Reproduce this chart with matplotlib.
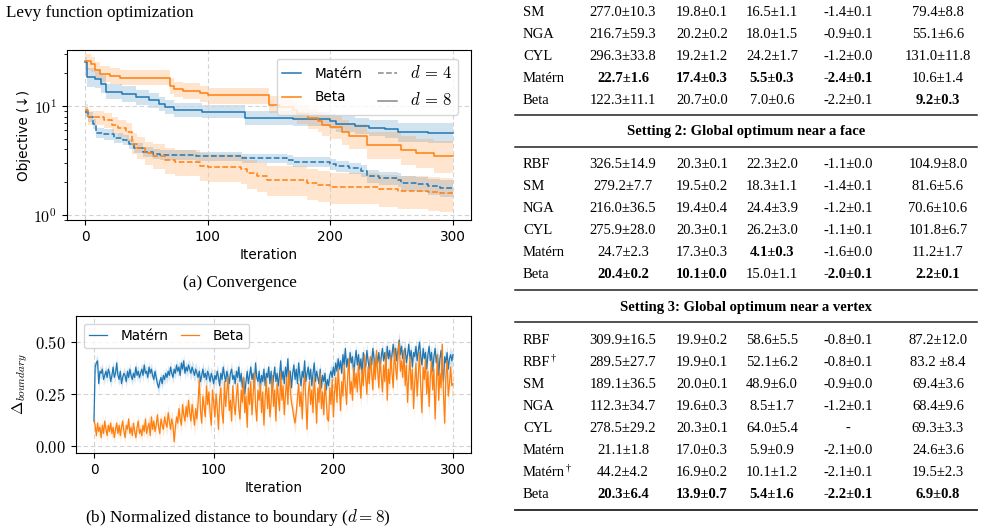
import numpy as np
import matplotlib
matplotlib.use("Agg")
import matplotlib.pyplot as plt
from matplotlib.lines import Line2D
from matplotlib.ticker import FuncFormatter, NullFormatter, FixedLocator

plt.rcParams['font.family'] = ['DejaVu Sans']
plt.rcParams['mathtext.fontset'] = 'cm'

BLUE = '#1f77b4'
ORANGE = '#ff7f0e'
SERIF = 'Liberation Serif'

# ---------------- data: (a) convergence (step change points) ----------------
m8_it = [0, 1, 8, 13, 17, 30, 41, 52, 60, 65, 72, 95, 130, 170, 200, 205, 220, 232, 245, 255, 280, 300]
m8_mean = [25.5, 18.6, 17.8, 16.0, 13.6, 13.0, 12.0, 11.3, 10.5, 9.85, 9.2, 8.85, 7.75, 7.6, 7.3, 6.9, 6.55, 6.35, 6.2, 5.75, 5.65, 5.65]
m8_lo = [21.0, 15.0, 14.6, 13.3, 11.5, 11.0, 10.2, 9.7, 9.0, 8.5, 7.9, 7.7, 6.7, 6.5, 6.2, 5.8, 5.5, 5.3, 5.1, 4.7, 4.6, 4.6]
m8_hi = [28.0, 22.5, 21.5, 19.2, 16.0, 15.3, 14.0, 13.1, 12.2, 11.4, 10.7, 10.2, 9.0, 8.8, 8.5, 8.1, 7.7, 7.5, 7.4, 7.0, 6.95, 6.95]

b8_it = [0, 5, 8, 12, 20, 28, 69, 72, 80, 94, 100, 150, 158, 170, 173, 182, 190, 193, 200, 210, 215, 230, 258, 270, 285, 300]
b8_mean = [25.9, 24.5, 21.5, 19.8, 19.0, 18.2, 15.3, 14.3, 13.8, 13.1, 12.6, 10.3, 9.9, 9.2, 8.4, 7.7, 7.3, 6.7, 6.45, 5.8, 5.3, 4.4, 3.95, 3.7, 3.47, 3.47]
b8_lo = [21.5, 20.5, 18.0, 16.5, 16.0, 15.5, 13.0, 12.2, 11.7, 11.0, 10.5, 8.6, 8.2, 7.5, 6.8, 6.2, 5.8, 5.3, 5.0, 4.4, 4.0, 3.3, 2.9, 2.7, 2.45, 2.4]
b8_hi = [30.0, 28.5, 25.5, 23.5, 22.5, 21.3, 18.0, 16.8, 16.2, 15.4, 14.8, 12.3, 11.9, 11.1, 10.2, 9.4, 8.9, 8.3, 8.1, 7.4, 6.9, 5.8, 5.3, 5.0, 4.75, 4.7]

m4_it = [0, 2, 6, 9, 15, 23, 31, 36, 40, 47, 55, 61, 90, 128, 165, 170, 200, 205, 215, 225, 230, 240, 255, 258, 270, 280, 290, 300]
m4_mean = [8.9, 8.0, 6.9, 5.7, 5.5, 5.1, 4.9, 4.5, 4.1, 3.78, 3.62, 3.55, 3.45, 3.32, 3.2, 3.07, 2.92, 2.8, 2.68, 2.55, 2.27, 2.2, 2.1, 1.96, 1.92, 1.83, 1.77, 1.77]
m4_lo = [8.0, 7.2, 6.2, 5.1, 4.9, 4.6, 4.4, 4.05, 3.7, 3.4, 3.27, 3.2, 3.1, 3.0, 2.88, 2.76, 2.6, 2.5, 2.38, 2.25, 1.98, 1.9, 1.8, 1.66, 1.62, 1.53, 1.47, 1.47]
m4_hi = [9.8, 8.9, 7.6, 6.3, 6.1, 5.6, 5.4, 5.0, 4.55, 4.2, 4.0, 3.92, 3.8, 3.66, 3.53, 3.4, 3.25, 3.12, 3.0, 2.87, 2.58, 2.5, 2.42, 2.28, 2.24, 2.15, 2.1, 2.1]

b4_it = [0, 2, 15, 22, 27, 33, 38, 42, 49, 55, 65, 73, 94, 100, 127, 132, 140, 148, 181, 190, 200, 240, 255, 280, 290, 300]
b4_mean = [9.2, 7.86, 7.45, 6.7, 6.3, 5.8, 4.5, 4.15, 3.7, 3.5, 3.2, 3.05, 2.82, 2.75, 2.65, 2.42, 2.26, 2.09, 1.96, 1.88, 1.79, 1.72, 1.67, 1.63, 1.58, 1.58]
b4_lo = [7.9, 6.7, 6.3, 5.6, 5.2, 4.7, 3.6, 3.25, 2.85, 2.65, 2.4, 2.27, 2.07, 2.0, 1.92, 1.74, 1.62, 1.5, 1.38, 1.32, 1.25, 1.18, 1.14, 1.1, 1.07, 1.07]
b4_hi = [10.5, 9.1, 8.7, 7.9, 7.5, 7.0, 5.6, 5.2, 4.7, 4.5, 4.15, 3.95, 3.7, 3.6, 3.5, 3.2, 3.0, 2.8, 2.65, 2.55, 2.45, 2.35, 2.28, 2.22, 2.17, 2.17]

# ---------------- data: (b) distance to boundary, iterations 0..300 ----------------
dist_matern = [
    0.12, 0.38, 0.40, 0.41, 0.30, 0.36, 0.35, 0.37, 0.32, 0.34, 0.36, 0.33, 0.37, 0.35, 0.31, 0.34, 0.38, 0.33, 0.35, 0.40,
    0.34, 0.32, 0.36, 0.30, 0.33, 0.35, 0.34, 0.31, 0.36, 0.33, 0.37, 0.34, 0.32, 0.35, 0.33, 0.38, 0.34, 0.36, 0.33, 0.35,
    0.37, 0.34, 0.39, 0.35, 0.36, 0.33, 0.38, 0.35, 0.37, 0.34, 0.32, 0.36, 0.33, 0.30, 0.28, 0.31, 0.33, 0.30, 0.34, 0.32,
    0.35, 0.33, 0.36, 0.34, 0.38, 0.35, 0.33, 0.37, 0.35, 0.39, 0.36, 0.38, 0.34, 0.40, 0.37, 0.41, 0.35, 0.38, 0.36, 0.39,
    0.37, 0.35, 0.38, 0.36, 0.34, 0.37, 0.35, 0.33, 0.36, 0.31, 0.34, 0.37, 0.33, 0.35, 0.32, 0.36, 0.34, 0.31, 0.35, 0.33,
    0.30, 0.34, 0.32, 0.36, 0.33, 0.29, 0.35, 0.32, 0.38, 0.34, 0.31, 0.36, 0.33, 0.30, 0.35, 0.37, 0.32, 0.34, 0.30, 0.36,
    0.33, 0.38, 0.31, 0.35, 0.28, 0.33, 0.25, 0.31, 0.36, 0.30, 0.34, 0.38, 0.32, 0.35, 0.29, 0.40, 0.33, 0.31, 0.36, 0.28,
    0.34, 0.31, 0.37, 0.29, 0.35, 0.33, 0.38, 0.30, 0.36, 0.27, 0.33, 0.38, 0.31, 0.35, 0.29, 0.34, 0.41, 0.32, 0.36, 0.30,
    0.38, 0.33, 0.42, 0.31, 0.36, 0.28, 0.35, 0.39, 0.32, 0.37, 0.30, 0.40, 0.34, 0.29, 0.36, 0.33, 0.41, 0.31, 0.35, 0.38,
    0.32, 0.37, 0.29, 0.35, 0.40, 0.31, 0.36, 0.33, 0.30, 0.37, 0.28, 0.34, 0.31, 0.35, 0.27, 0.32, 0.29, 0.34, 0.36, 0.33,
    0.38, 0.34, 0.40, 0.36, 0.42, 0.37, 0.41, 0.35, 0.44, 0.39, 0.47, 0.38, 0.42, 0.36, 0.45, 0.40, 0.43, 0.34, 0.41, 0.46,
    0.39, 0.44, 0.37, 0.42, 0.35, 0.45, 0.40, 0.38, 0.46, 0.41, 0.37, 0.43, 0.39, 0.47, 0.42, 0.36, 0.44, 0.40, 0.45, 0.38,
    0.43, 0.47, 0.41, 0.45, 0.39, 0.48, 0.42, 0.46, 0.40, 0.44, 0.49, 0.43, 0.47, 0.41, 0.46, 0.51, 0.44, 0.48, 0.42, 0.45,
    0.47, 0.40, 0.44, 0.49, 0.42, 0.46, 0.38, 0.45, 0.43, 0.48, 0.41, 0.46, 0.50, 0.43, 0.39, 0.47, 0.42, 0.45, 0.37, 0.44,
    0.48, 0.41, 0.45, 0.36, 0.43, 0.47, 0.40, 0.44, 0.34, 0.42, 0.46, 0.38, 0.31, 0.43, 0.40, 0.45, 0.37, 0.42, 0.44, 0.41,
    0.44]
dist_beta = [
    0.12, 0.10, 0.05, 0.11, 0.07, 0.09, 0.04, 0.10, 0.06, 0.12, 0.08, 0.05, 0.10, 0.07, 0.11, 0.06, 0.09, 0.04, 0.08, 0.11,
    0.06, 0.10, 0.05, 0.09, 0.12, 0.07, 0.04, 0.10, 0.08, 0.13, 0.06, 0.09, 0.05, 0.11, 0.07, 0.04, 0.09, 0.12, 0.06, 0.08,
    0.05, 0.10, 0.07, 0.13, 0.06, 0.09, 0.11, 0.05, 0.14, 0.08, 0.12, 0.07, 0.10, 0.15, 0.09, 0.06, 0.13, 0.10, 0.08, 0.14,
    0.11, 0.09, 0.16, 0.12, 0.08, 0.13, 0.10, 0.02, 0.09, 0.14, 0.11, 0.18, 0.13, 0.10, 0.20, 0.15, 0.12, 0.19, 0.14, 0.22,
    0.16, 0.12, 0.20, 0.15, 0.10, 0.18, 0.13, 0.21, 0.32, 0.17, 0.11, 0.24, 0.19, 0.14, 0.29, 0.20, 0.26, 0.16, 0.10, 0.27,
    0.21, 0.14, 0.25, 0.18, 0.08, 0.23, 0.28, 0.16, 0.11, 0.31, 0.19, 0.26, 0.33, 0.17, 0.22, 0.12, 0.29, 0.20, 0.15, 0.24,
    0.30, 0.18, 0.13, 0.27, 0.21, 0.33, 0.16, 0.24, 0.09, 0.28, 0.20, 0.31, 0.15, 0.25, 0.35, 0.19, 0.12, 0.27, 0.22, 0.30,
    0.16, 0.26, 0.10, 0.23, 0.32, 0.18, 0.28, 0.14, 0.21, 0.34, 0.19, 0.27, 0.12, 0.30, 0.24, 0.17, 0.35, 0.22, 0.29, 0.15,
    0.25, 0.33, 0.20, 0.36, 0.27, 0.21, 0.18, 0.14, 0.11, 0.16, 0.23, 0.30, 0.19, 0.26, 0.13, 0.29, 0.34, 0.22, 0.08, 0.25,
    0.31, 0.20, 0.27, 0.16, 0.33, 0.24, 0.11, 0.28, 0.21, 0.35, 0.18, 0.26, 0.15, 0.30, 0.23, 0.13, 0.12, 0.28, 0.20, 0.32,
    0.14, 0.26, 0.33, 0.21, 0.37, 0.28, 0.17, 0.31, 0.24, 0.39, 0.29, 0.20, 0.34, 0.42, 0.25, 0.31, 0.22, 0.38, 0.28, 0.35,
    0.26, 0.40, 0.31, 0.23, 0.37, 0.29, 0.44, 0.33, 0.25, 0.38, 0.30, 0.43, 0.35, 0.27, 0.41, 0.32, 0.46, 0.36, 0.28, 0.42,
    0.34, 0.26, 0.39, 0.31, 0.45, 0.22, 0.37, 0.30, 0.43, 0.35, 0.28, 0.47, 0.38, 0.32, 0.44, 0.50, 0.36, 0.41, 0.33, 0.46,
    0.29, 0.39, 0.21, 0.34, 0.43, 0.27, 0.37, 0.18, 0.31, 0.40, 0.24, 0.35, 0.45, 0.28, 0.16, 0.38, 0.32, 0.42, 0.25, 0.36,
    0.19, 0.33, 0.41, 0.27, 0.37, 0.13, 0.30, 0.44, 0.22, 0.35, 0.28, 0.49, 0.25, 0.11, 0.34, 0.41, 0.24, 0.30, 0.38, 0.29,
    0.30]
# standard error per block of 20 iterations (last block: iteration 300)
sd_matern_blocks = [0.03, 0.03, 0.03, 0.03, 0.035, 0.035, 0.035, 0.035, 0.035, 0.035, 0.035, 0.035, 0.035, 0.035, 0.04, 0.04]
sd_beta_blocks = [0.03, 0.03, 0.035, 0.04, 0.05, 0.05, 0.05, 0.05, 0.05, 0.05, 0.05, 0.055, 0.055, 0.055, 0.06, 0.06]

# ---------------- data: table ----------------
col_methods_1 = ["SM", "NGA", "CYL", "Matérn", "Beta"]
cells_1 = [
    ["277.0±10.3", "19.8±0.1", "16.5±1.1", "-1.4±0.1", "79.4±8.8"],
    ["216.7±59.3", "20.2±0.2", "18.0±1.5", "-0.9±0.1", "55.1±6.6"],
    ["296.3±33.8", "19.2±1.2", "24.2±1.7", "-1.2±0.0", "131.0±11.8"],
    ["22.7±1.6", "17.4±0.3", "5.5±0.3", "-2.4±0.1", "10.6±1.4"],
    ["122.3±11.1", "20.7±0.0", "7.0±0.6", "-2.2±0.1", "9.2±0.3"],
]
bold_1 = [[0, 0, 0, 0, 0], [0, 0, 0, 0, 0], [0, 0, 0, 0, 0], [1, 1, 1, 1, 0], [0, 0, 0, 0, 1]]

header_2 = "Setting 2: Global optimum near a face"
col_methods_2 = ["RBF", "SM", "NGA", "CYL", "Matérn", "Beta"]
cells_2 = [
    ["326.5±14.9", "20.3±0.1", "22.3±2.0", "-1.1±0.0", "104.9±8.0"],
    ["279.2±7.7", "19.5±0.2", "18.3±1.1", "-1.4±0.1", "81.6±5.6"],
    ["216.0±36.5", "19.4±0.4", "24.4±3.9", "-1.2±0.1", "70.6±10.6"],
    ["275.9±28.0", "20.3±0.1", "26.2±3.0", "-1.1±0.1", "101.8±6.7"],
    ["24.7±2.3", "17.3±0.3", "4.1±0.3", "-1.6±0.0", "11.2±1.7"],
    ["20.4±0.2", "10.1±0.0", "15.0±1.1", "-2.0±0.1", "2.2±0.1"],
]
bold_2 = [[0, 0, 0, 0, 0], [0, 0, 0, 0, 0], [0, 0, 0, 0, 0], [0, 0, 0, 0, 0], [0, 0, 1, 0, 0], [1, 1, 0, 1, 1]]

header_3 = "Setting 3: Global optimum near a vertex"
col_methods_3 = ["RBF", "RBF†", "SM", "NGA", "CYL", "Matérn", "Matérn†", "Beta"]
cells_3 = [
    ["309.9±16.5", "19.9±0.2", "58.6±5.5", "-0.8±0.1", "87.2±12.0"],
    ["289.5±27.7", "19.9±0.1", "52.1±6.2", "-0.8±0.1", "83.2 ±8.4"],
    ["189.1±36.5", "20.0±0.1", "48.9±6.0", "-0.9±0.0", "69.4±3.6"],
    ["112.3±34.7", "19.6±0.3", "8.5±1.7", "-1.2±0.1", "68.4±9.6"],
    ["278.5±29.2", "20.3±0.1", "64.0±5.4", "-", "69.3±3.3"],
    ["21.1±1.8", "17.0±0.3", "5.9±0.9", "-2.1±0.0", "24.6±3.6"],
    ["44.2±4.2", "16.9±0.2", "10.1±1.2", "-2.1±0.1", "19.5±2.3"],
    ["20.3±6.4", "13.9±0.7", "5.4±1.6", "-2.2±0.1", "6.9±0.8"],
]
bold_3 = [[0] * 5] * 7 + [[1, 1, 1, 1, 1]]

# ---------------- figure ----------------
W, H = 984, 532
fig = plt.figure(figsize=(W / 100, H / 100), dpi=100)
renderer = fig.canvas.get_renderer()


def fx(x):
    return x / W


def fy(y):
    return 1 - y / H


def axes_px(l, t, r, b):
    return fig.add_axes([fx(l), fy(b), (r - l) / W, (b - t) / H])


GRID = dict(ls=(0, (4, 2.5)), color='#d3d3d3', lw=0.8)
TICKFS = 9.8
LEGFS = 9.8

# ----- (a) -----
ax1 = axes_px(67, 50, 471, 220)
for it, mean, lo, hi, col, ls in [
    (m8_it, m8_mean, m8_lo, m8_hi, BLUE, '-'),
    (b8_it, b8_mean, b8_lo, b8_hi, ORANGE, '-'),
    (m4_it, m4_mean, m4_lo, m4_hi, BLUE, '--'),
    (b4_it, b4_mean, b4_lo, b4_hi, ORANGE, '--'),
]:
    ax1.fill_between(it, lo, hi, step='post', color=col, alpha=0.2, lw=0)
    ax1.step(it, mean, where='post', color=col, ls=ls, lw=1.1)
ax1.set_yscale('log')
ax1.set_ylim(0.9, 32.7)
ax1.set_xlim(-15, 315)
ax1.set_xticks([0, 100, 200, 300])
ax1.yaxis.set_major_locator(FixedLocator([1, 10]))
ax1.yaxis.set_major_formatter(FuncFormatter(lambda v, p: r'$10^{%d}$' % round(np.log10(v))))
ax1.yaxis.set_minor_formatter(NullFormatter())
ax1.tick_params(axis='x', labelsize=TICKFS)
ax1.tick_params(axis='y', labelsize=11.5)
ax1.grid(True, which='major', **GRID)
ax1.set_xlabel('Iteration', fontsize=TICKFS, labelpad=3)
ax1.set_ylabel('Objective (↓)', fontsize=TICKFS, labelpad=2)
handles = [Line2D([], [], color=BLUE, lw=1.1), Line2D([], [], color=ORANGE, lw=1.1),
           Line2D([], [], color='#888888', ls='--', lw=1.1), Line2D([], [], color='#888888', lw=1.1)]
leg1 = ax1.legend(handles, ['Matérn', 'Beta', r'$d\,=\,4$', r'$d\,=\,8$'], ncol=2, loc='upper right',
                  fontsize=LEGFS, handlelength=1.4, columnspacing=1.1, labelspacing=0.7,
                  handletextpad=1.0, borderaxespad=0.5, bbox_to_anchor=(0.985, 0.99))
for t in leg1.get_texts()[2:]:
    t.set_fontsize(12)

# ----- (b) -----
ax2 = axes_px(76, 316, 471, 453)
iters = np.arange(len(dist_matern))
reps = [20] * 15 + [1]
for vals, sdb, col in [(dist_matern, sd_matern_blocks, BLUE), (dist_beta, sd_beta_blocks, ORANGE)]:
    v = np.array(vals)
    sd = np.repeat(sdb, reps)
    ax2.fill_between(iters, v - sd, v + sd, color=col, alpha=0.18, lw=0)
for vals, col, lab in [(dist_matern, BLUE, 'Matérn'), (dist_beta, ORANGE, 'Beta')]:
    ax2.plot(iters, vals, color=col, lw=0.9, label=lab)
ax2.set_xlim(-15, 315)
ax2.set_ylim(-0.034, 0.626)
ax2.set_xticks([0, 100, 200, 300])
ax2.set_yticks([0.0, 0.25, 0.5])
ax2.yaxis.set_major_formatter(FuncFormatter(lambda v, p: r'$%.2f$' % v))
ax2.tick_params(axis='x', labelsize=TICKFS)
ax2.tick_params(axis='y', labelsize=12)
ax2.grid(True, **GRID)
ax2.set_xlabel('Iteration', fontsize=TICKFS, labelpad=3)
ax2.set_ylabel(r'$\Delta_{boundary}$', fontsize=11.5, labelpad=4)
ax2.legend(ncol=2, loc='upper left', fontsize=LEGFS, handlelength=1.3, columnspacing=0.9,
           handletextpad=1.0, bbox_to_anchor=(0.01, 0.975), borderaxespad=0.3)

# ----- captions -----
CAPFS = 12.3
fig.text(fx(6), fy(13), 'Levy function optimization', family=SERIF, fontsize=CAPFS, ha='left', va='center')
fig.text(fx(240), fy(283), '(a) Convergence', family=SERIF, fontsize=CAPFS, ha='center', va='center')
fig.text(fx(238), fy(517), r'(b) Normalized distance to boundary ($d=8$)', family=SERIF, fontsize=CAPFS,
         ha='center', va='center')

# ----- table -----
TFS = 10.5
name_x = 523
col_x = [623, 702, 772, 848, 938]
line_x0, line_x1 = 515, 977
ROW = 22.0


def hline(y, lw=1.1):
    fig.add_artist(Line2D([fx(line_x0), fx(line_x1)], [fy(y), fy(y)], transform=fig.transFigure,
                          color='#222222', lw=lw))


def name_cell(nm, y):
    base = nm.rstrip('†')
    t = fig.text(fx(name_x), fy(y), base, family=SERIF, fontsize=TFS, ha='left', va='center')
    if nm.endswith('†'):
        bb = t.get_window_extent(renderer)
        fig.text(bb.x1 / W + 0.0005, fy(y - 4), '†', family=SERIF, fontsize=TFS * 0.7,
                 ha='left', va='center')


def rows(names, cells, bolds, y0):
    for i, (nm, row, bl) in enumerate(zip(names, cells, bolds)):
        y = y0 + i * ROW
        name_cell(nm, y)
        for x, c, b in zip(col_x, row, bl):
            fig.text(fx(x), fy(y), c, family=SERIF, fontsize=TFS, ha='center', va='center',
                     weight='bold' if b else 'normal')
    return y0 + (len(names) - 1) * ROW


def header(text, y):
    fig.text(fx((line_x0 + line_x1) / 2), fy(y), text, family=SERIF, fontsize=TFS, ha='center',
             va='center', weight='bold')


last = rows(col_methods_1, cells_1, bold_1, 12)
hline(last + 15)
header(header_2, last + 32)
hline(last + 47)
last = rows(col_methods_2, cells_2, bold_2, last + 65)
hline(last + 15)
header(header_3, last + 32)
hline(last + 47)
last = rows(col_methods_3, cells_3, bold_3, last + 65)
hline(last + 16, lw=1.3)

fig.savefig('out.png', dpi=100)
